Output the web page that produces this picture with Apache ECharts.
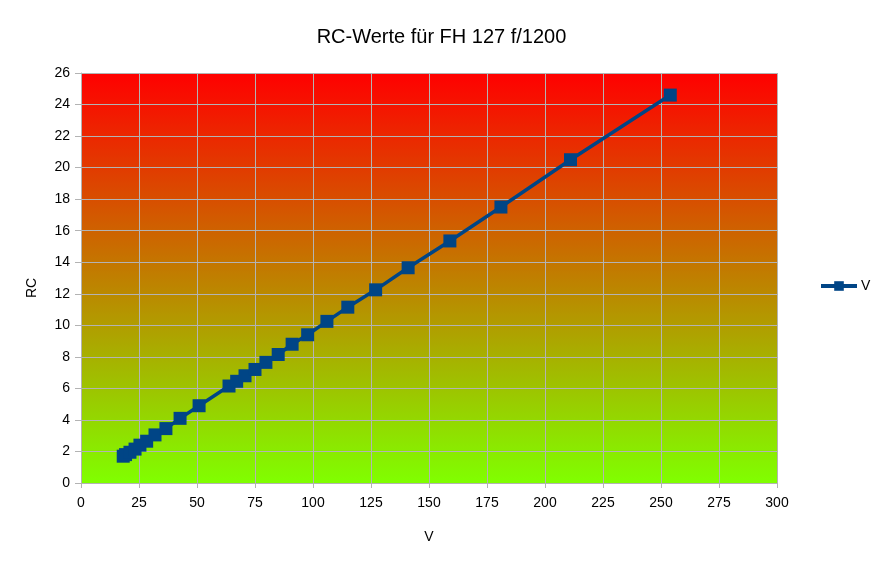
<!DOCTYPE html>
<html>
<head>
<meta charset="utf-8">
<script src="https://cdn.jsdelivr.net/npm/echarts@6/dist/echarts.min.js"></script>
<style>
  html, body { margin: 0; padding: 0; background: #fff; }
  #chart-container { width: 883px; height: 566px; }
</style>
</head>
<body>
<div id="chart-container"></div>
<script>
// values
var vValues = [18.2, 19.2, 21.1, 23.3, 25.4, 28.3, 31.9, 36.6, 42.7, 50.9,
  63.8, 67.1, 70.7, 75, 79.7, 85, 91, 97.7, 106, 115,
  127, 141, 159, 181, 211, 254];
var rcValues = [1.7, 1.8, 1.95, 2.15, 2.4, 2.65, 3.05, 3.45, 4.1, 4.9,
  6.15, 6.45, 6.8, 7.2, 7.65, 8.15, 8.8, 9.4, 10.25, 11.15,
  12.25, 13.65, 15.35, 17.5, 20.5, 24.6];
var seriesName = 'V';

var dom = document.getElementById('chart-container');
var myChart = echarts.init(dom, null, { renderer: 'canvas' });

var points = vValues.map(function (v, i) {
  return [v, rcValues[i]];
});

var gridColor = '#b3b3b3';
var font = '"Liberation Sans", Arial, sans-serif';

var option = {
  animation: false,
  textStyle: { fontFamily: font },
  title: {
    text: 'RC-Werte für FH 127 f/1200',
    left: 'center',
    top: 22,
    textStyle: { fontFamily: font, fontSize: 20, fontWeight: 'normal', color: '#000' }
  },
  legend: {
    data: [seriesName],
    orient: 'vertical',
    left: 814,
    top: 274,
    itemWidth: 36,
    itemHeight: 12,
    itemGap: 0,
    lineStyle: { width: 4 },
    textStyle: { fontFamily: font, fontSize: 14, color: '#000', padding: [0, 0, 0, -1] }
  },
  grid: {
    left: 81,
    right: 106,
    top: 73,
    bottom: 83,
    show: true,
    borderWidth: 0,
    backgroundColor: new echarts.graphic.LinearGradient(0, 0, 0, 1, [
      { offset: 0, color: '#ff0000' },
      { offset: 1, color: '#80ff00' }
    ])
  },
  xAxis: {
    type: 'value',
    min: 0,
    max: 300,
    interval: 25,
    name: 'V',
    nameLocation: 'middle',
    nameGap: 47,
    nameTextStyle: { fontFamily: font, fontSize: 14, color: '#000' },
    axisLine: { show: true, lineStyle: { color: gridColor } },
    axisTick: { show: true, length: 5, lineStyle: { color: gridColor } },
    axisLabel: { fontFamily: font, fontSize: 14, color: '#000', margin: 13 },
    splitLine: { show: true, lineStyle: { color: gridColor, width: 1 } }
  },
  yAxis: {
    type: 'value',
    min: 0,
    max: 26,
    interval: 2,
    name: 'RC',
    nameLocation: 'middle',
    nameGap: 42,
    nameTextStyle: { fontFamily: font, fontSize: 14, color: '#000', padding: [0, 20, 0, 0] },
    axisLine: { show: true, lineStyle: { color: gridColor } },
    axisTick: { show: true, length: 6, lineStyle: { color: gridColor } },
    axisLabel: { fontFamily: font, fontSize: 14, color: '#000', margin: 11 },
    splitLine: { show: true, lineStyle: { color: gridColor, width: 1 } }
  },
  series: [
    {
      name: seriesName,
      type: 'line',
      data: points,
      symbol: 'rect',
      symbolSize: 13,
      itemStyle: { color: '#004586' },
      lineStyle: { color: '#004586', width: 3.5 }
    }
  ]
};

myChart.setOption(option);
window.addEventListener('resize', myChart.resize);
</script>
</body>
</html>
